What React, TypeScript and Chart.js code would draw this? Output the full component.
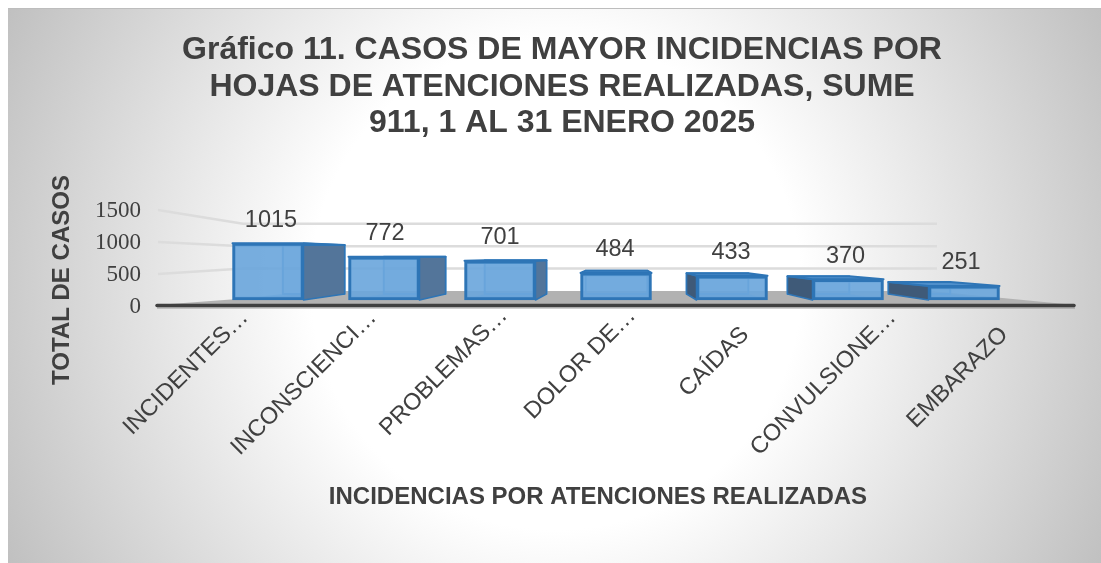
import React, { useEffect, useRef } from "react";
import { Chart, registerables } from "chart.js";

Chart.register(...registerables);

const titleLines = [
  "Gráfico 11. CASOS DE MAYOR INCIDENCIAS POR",
  "HOJAS DE ATENCIONES REALIZADAS, SUME",
  "911, 1 AL 31 ENERO 2025",
];
const categories = [
  "INCIDENTES…",
  "INCONSCIENCI…",
  "PROBLEMAS…",
  "DOLOR DE…",
  "CAÍDAS",
  "CONVULSIONE…",
  "EMBARAZO",
];
const values = [1015, 772, 701, 484, 433, 370, 251];
const yAxisTitle = "TOTAL DE CASOS";
const xAxisTitle = "INCIDENCIAS POR ATENCIONES REALIZADAS";

const INK = "#404040";
const SANS = "'Liberation Sans', Arial, sans-serif";
const SERIF = "'Liberation Serif', 'Times New Roman', serif";

const depthX = 0.87;
const depthY = 0.86;
const vanishX = 620;
const vanishY = 257;
const backX = (x: number) => vanishX + (x - vanishX) * depthX;
const backY = (y: number) => vanishY + (y - vanishY) * depthY;

function poly(ctx: CanvasRenderingContext2D, pts: number[][], fill?: string, stroke?: string, lw = 2) {
  ctx.beginPath();
  pts.forEach((p, i) => (i ? ctx.lineTo(p[0], p[1]) : ctx.moveTo(p[0], p[1])));
  ctx.closePath();
  if (fill) {
    ctx.fillStyle = fill;
    ctx.fill();
  }
  if (stroke) {
    ctx.strokeStyle = stroke;
    ctx.lineWidth = lw;
    ctx.lineJoin = "round";
    ctx.stroke();
  }
}

const panelPlugin = {
  id: "panel",
  afterUpdate(chart: any) {
    // each rotated label sits slightly differently along the perspective axis
    const nudgeX = [-3, -2, 2, 3, -11, 9, -6];
    const nudgeY = [-10, -10, -12, -12, 7, -10, 7];
    chart.scales.xLabels.getLabelItems().forEach((item: any, i: number) => {
      const [x, y] = item.options.translation;
      item.options.translation = [x + nudgeX[i], y + nudgeY[i]];
    });
    chart.scales.y.getLabelItems().forEach((item: any) => {
      const [x, y] = item.options.translation;
      item.options.translation = [x, y + 1];
    });
  },
  beforeDraw(chart: any) {
    const { ctx, width, height } = chart;
    ctx.save();
    const g = ctx.createRadialGradient(556, 285, 245, 556, 285, 620);
    g.addColorStop(0, "#ffffff");
    g.addColorStop(1, "#bfbfbf");
    ctx.fillStyle = g;
    ctx.fillRect(8, 9, width - 8, height - 9);
    ctx.fillStyle = "#bdbdbd";
    ctx.fillRect(8, 8, width - 8, 1);
    ctx.restore();
  },
};

const wallsPlugin = {
  id: "walls",
  beforeDatasetsDraw(chart: any) {
    const { ctx } = chart;
    const yScale = chart.scales.y;
    ctx.save();
    // floor
    poly(ctx, [[157, 305], [345, 291], [930, 291], [1075, 305]], "#b2b2b2");
    // gridlines on side and back walls
    ctx.strokeStyle = "#dcdcdc";
    ctx.lineWidth = 2.5;
    yScale.ticks.forEach((t: any) => {
      if (t.value === 0) return;
      const py = yScale.getPixelForValue(t.value);
      const by = 291 + (py - 306) * 0.7;
      ctx.beginPath();
      ctx.moveTo(158, py);
      ctx.lineTo(243, by);
      ctx.lineTo(937, by);
      ctx.stroke();
    });
    // front axis edge
    ctx.strokeStyle = "rgba(120,120,120,0.35)";
    ctx.lineWidth = 2;
    ctx.beginPath();
    ctx.moveTo(157, 308);
    ctx.lineTo(1075, 308);
    ctx.stroke();
    ctx.strokeStyle = "#404040";
    ctx.lineWidth = 3.5;
    ctx.lineCap = "round";
    ctx.beginPath();
    ctx.moveTo(157, 305.5);
    ctx.lineTo(1074, 305.5);
    ctx.stroke();

    // rear parts of the boxes
    chart.getDatasetMeta(0).data.forEach((bar: any) => {
      const l = bar.x - bar.width / 2;
      const r = bar.x + bar.width / 2;
      const t = bar.y;
      const b = bar.base;
      const bl = backX(l);
      const br = backX(r);
      const bt = backY(t);
      const bb = backY(b);
      poly(ctx, [[bl, bt], [br, bt], [br, bb], [bl, bb]], "rgba(91,155,213,0.3)", "#5b9bd5", 2);
      poly(ctx, [[l, b], [r, b], [br, bb], [bl, bb]], "rgba(91,155,213,0.5)");
      if (br > r) {
        poly(ctx, [[r, t], [br, bt], [br, bb], [r, b]], "#53759a", "#2e75b6", 1.5);
      }
      if (bl < l) {
        poly(ctx, [[l, t], [bl, bt], [bl, bb], [l, b]], "#3f5a78", "#2e75b6", 1.5);
      }
      poly(ctx, [[l, t], [r, t], [br, bt], [bl, bt]], "#4f8fcb", "#2e75b6", 2);
    });
    ctx.restore();
  },
  afterDatasetsDraw(chart: any) {
    const { ctx } = chart;
    const labelShift = [3, 1, 0, -1, -1, -2.5, -3];
    ctx.save();
    ctx.fillStyle = INK;
    ctx.font = `23.5px ${SANS}`;
    ctx.textAlign = "center";
    ctx.textBaseline = "middle";
    chart.getDatasetMeta(0).data.forEach((bar: any, i: number) => {
      ctx.fillText(String(values[i]), bar.x + labelShift[i], bar.y - 23);
    });
    // axis titles
    ctx.font = `bold 24px ${SANS}`;
    ctx.fillText(xAxisTitle, 598, 497);
    ctx.translate(62, 280);
    ctx.rotate(-Math.PI / 2);
    ctx.fillText(yAxisTitle, 0, 0);
    ctx.restore();
  },
};

export default function App() {
  const ref = useRef<HTMLCanvasElement>(null);
  useEffect(() => {
    const chart = new Chart(ref.current!, {
      type: "bar",
      data: {
        labels: categories,
        datasets: [
          {
            data: values.map((v, i) => ({ x: i, y: v })),
            xAxisID: "x",
            yAxisID: "yBars",
            backgroundColor: "rgba(105,165,220,0.9)",
            borderColor: "#2e75b6",
            borderWidth: 3,
            borderSkipped: false,
            barThickness: 71,
          },
        ],
      } as any,
      options: {
        responsive: false,
        animation: false,
        layout: { autoPadding: false, padding: { left: 50, right: 27, top: 0, bottom: 0 } },
        plugins: {
          legend: { display: false },
          tooltip: { enabled: false },
          title: {
            display: true,
            text: titleLines,
            color: INK,
            font: { family: SANS, size: 32, weight: "bold", lineHeight: 1.144 },
            padding: { top: 32, bottom: 68.2 },
          },
        },
        scales: {
          x: { type: "linear", display: false, offset: false, min: -0.724, max: 6.948, grid: { display: false } },
          yBars: { axis: "y", type: "linear", display: false, min: -107, max: 1607, grid: { display: false } },
          xLabels: {
            axis: "x",
            type: "category",
            position: "bottom",
            offset: true,
            labels: categories,
            grid: { display: false },
            border: { display: false },
            ticks: {
              color: INK,
              font: { family: SANS, size: 23.5 },
              minRotation: 45,
              maxRotation: 45,
              autoSkip: false,
              padding: 0,
            },
            afterFit(scale: any) {
              scale.height = 257;
            },
          },
          y: {
            type: "linear",
            position: "left",
            min: 0,
            max: 1500,
            grid: { display: false, drawTicks: false },
            border: { display: false },
            ticks: {
              stepSize: 500,
              color: INK,
              font: { family: SERIF, size: 23 },
              padding: 43,
              callback: (v: any) => String(v),
            },
            afterFit(scale: any) {
              scale.width = 134;
            },
          },
        },
      } as any,
      plugins: [panelPlugin, wallsPlugin],
    });
    return () => chart.destroy();
  }, []);
  return (
    <canvas
      ref={ref}
      width={1101}
      height={563}
      style={{ position: "fixed", left: 0, top: 0, width: 1101, height: 563, display: "block" }}
    />
  );
}
